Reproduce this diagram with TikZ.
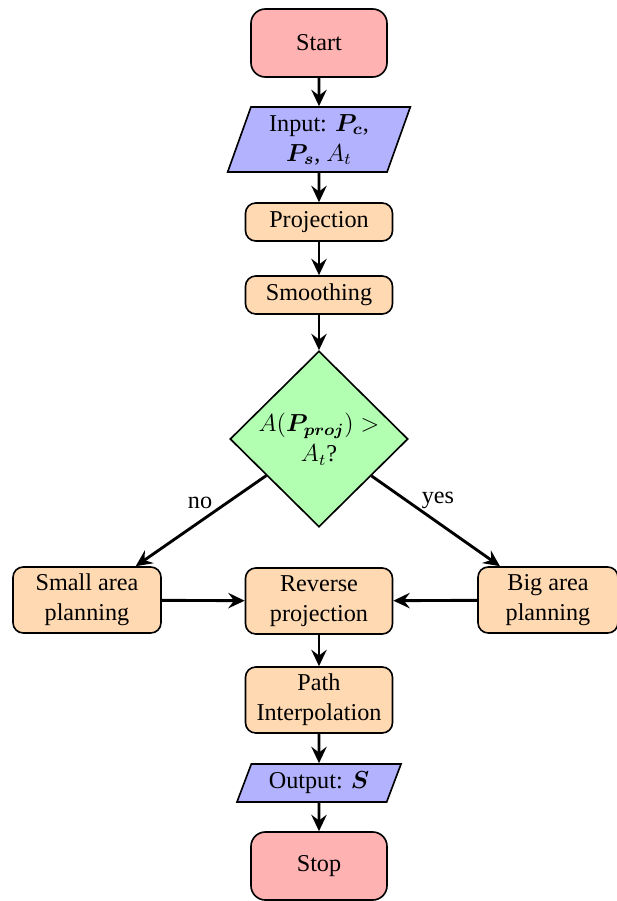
\documentclass[tikz,border=0pt]{standalone}
\usepackage{amsmath,amssymb,bm}
\usepackage[no-math]{fontspec}
\setmainfont{Liberation Serif}
\usetikzlibrary{shapes.geometric,arrows.meta}
\begin{document}
\begin{tikzpicture}[x=0.4878pt,y=-0.4878pt,
  every node/.style={font=\fontsize{11.8}{14.6}\selectfont},
  term/.style={draw,line width=0.8pt,rounded corners=7pt,fill=red!30,minimum width=136*0.4878pt,minimum height=68*0.4878pt,align=center},
  proc/.style={draw,line width=0.8pt,rounded corners=5pt,fill=orange!30,minimum width=147*0.4878pt,align=center,inner sep=2pt},
  io/.style={draw,line width=0.8pt,trapezium,trapezium stretches=true,fill=blue!30,align=center,inner sep=1pt},
  decide/.style={draw,line width=0.8pt,diamond,fill=green!30,minimum width=178*0.4878pt,minimum height=176*0.4878pt,inner sep=0pt,align=center},
  conn/.style={line width=1.4pt,-{Stealth[length=8pt,width=7.5pt,inset=2.8pt]}},
  lbl/.style={inner sep=0pt}]
\useasboundingbox (0,0) rectangle (617,901);
\node[term] (start) at (319,43) {Start};
\node[io,trapezium left angle=72,trapezium right angle=108,minimum width=183*0.4878pt,minimum height=65*0.4878pt] (input) at (319,139.5) {Input: $\bm{P_c}$,\\ $\bm{P_s}$, $A_t$};
\node[proc,minimum height=38*0.4878pt] (proj) at (319,222) {Projection};
\node[proc,minimum height=38*0.4878pt] (smooth) at (319,295) {Smoothing};
\node[decide] (dec) at (319,439) {$A(\bm{P_{proj}})>$\\ $A_t$?};
\node[proc,minimum width=148*0.4878pt,minimum height=66*0.4878pt] (small) at (87,600) {Small area\\ planning};
\node[proc,minimum height=66*0.4878pt] (rev) at (319,601) {Reverse\\ projection};
\node[proc,minimum width=140*0.4878pt,minimum height=66*0.4878pt] (big) at (548,600) {Big area\\ planning};
\node[proc,minimum height=66*0.4878pt] (interp) at (319,700) {Path\\ Interpolation};
\node[io,trapezium left angle=67,trapezium right angle=113,minimum width=165*0.4878pt,minimum height=38*0.4878pt] (output) at (319,783) {Output: $\bm{S}$};
\node[term] (stop) at (319,866) {Stop};
\node[lbl] (no) at (200,503) {no};
\node[lbl] (yes) at (438,500) {yes};
\draw[conn] (start) -- (input);
\draw[conn] (input) -- (proj);
\draw[conn] (proj) -- (smooth);
\draw[conn] (smooth) -- (dec);
\draw[conn] (dec) -- (small);
\draw[conn] (dec) -- (big);
\draw[conn] (small) -- (rev);
\draw[conn] (big) -- (rev);
\draw[conn] (rev) -- (interp);
\draw[conn] (interp) -- (output);
\draw[conn] (output) -- (stop);
\end{tikzpicture}
\end{document}
